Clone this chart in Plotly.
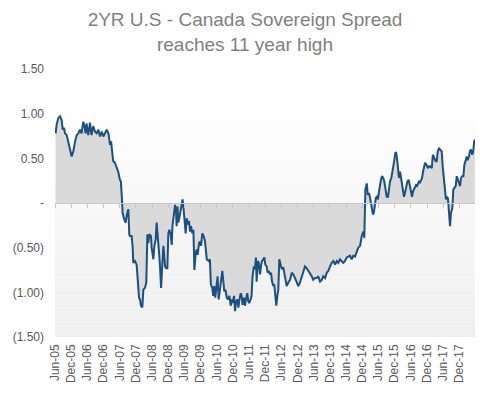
import plotly.graph_objects as go

title_text = "2YR U.S - Canada Sovereign Spread<br>reaches 11 year high"

dates = [
    "2005-06-08", "2005-06-19", "2005-07-08", "2005-07-27", "2005-08-15", "2005-08-27", "2005-09-11", "2005-09-22",
    "2005-10-11", "2005-10-30", "2005-11-18", "2005-12-06", "2005-12-25", "2006-01-14", "2006-02-02", "2006-02-20",
    "2006-03-09", "2006-03-28", "2006-04-16", "2006-04-27", "2006-05-12", "2006-05-23", "2006-06-12", "2006-07-01",
    "2006-07-19", "2006-08-07", "2006-08-26", "2006-09-14", "2006-10-03", "2006-10-22", "2006-11-10", "2006-11-29",
    "2006-12-17", "2007-01-06", "2007-01-25", "2007-02-13", "2007-02-24", "2007-03-09", "2007-03-20", "2007-04-09",
    "2007-04-27", "2007-05-16", "2007-06-04", "2007-06-15", "2007-06-27", "2007-07-04", "2007-07-19", "2007-08-07",
    "2007-08-22", "2007-09-07", "2007-09-18",
    "2007-09-25", "2007-10-14", "2007-10-25", "2007-11-02", "2007-11-21", "2007-12-10", "2007-12-21", "2008-01-06",
    "2008-01-17", "2008-01-28", "2008-02-12", "2008-02-24", "2008-03-13", "2008-03-28", "2008-04-09", "2008-04-20",
    "2008-05-01", "2008-05-20", "2008-05-27", "2008-06-16", "2008-06-27", "2008-07-12", "2008-07-23", "2008-08-04",
    "2008-08-19", "2008-08-30", "2008-09-11", "2008-09-26", "2008-10-07", "2008-10-18", "2008-10-26", "2008-11-06",
    "2008-11-21", "2008-12-02", "2008-12-13", "2008-12-28", "2009-01-09", "2009-01-17", "2009-01-28", "2009-02-08",
    "2009-02-16", "2009-02-27", "2009-03-05", "2009-03-16", "2009-03-24", "2009-04-04", "2009-04-16", "2009-05-01",
    "2009-05-12", "2009-05-23", "2009-05-31", "2009-06-16", "2009-06-27", "2009-07-08", "2009-07-23", "2009-08-04",
    "2009-08-15", "2009-08-30", "2009-09-11", "2009-09-22", "2009-10-07", "2009-10-18", "2009-10-29", "2009-11-14",
    "2009-11-25", "2009-12-06", "2009-12-21", "2010-01-05", "2010-01-20",
    "2010-02-09", "2010-02-28", "2010-03-16", "2010-03-27", "2010-04-12", "2010-04-23", "2010-05-04", "2010-05-16",
    "2010-05-31", "2010-06-11", "2010-06-23", "2010-07-08", "2010-07-19", "2010-08-04", "2010-08-15", "2010-08-26",
    "2010-09-07", "2010-09-22", "2010-10-07", "2010-10-22", "2010-11-06", "2010-11-18", "2010-11-29", "2010-12-14",
    "2010-12-25", "2011-01-06", "2011-01-21", "2011-02-01", "2011-02-13", "2011-02-28", "2011-03-09", "2011-03-20",
    "2011-04-05", "2011-04-16", "2011-04-27", "2011-05-12", "2011-05-23", "2011-06-04", "2011-06-19", "2011-06-30",
    "2011-07-11", "2011-07-26", "2011-08-07", "2011-08-18", "2011-08-26", "2011-09-07", "2011-09-18", "2011-10-03",
    "2011-10-14", "2011-10-25", "2011-11-10", "2011-11-21", "2011-12-02", "2011-12-17", "2011-12-28", "2012-01-09",
    "2012-01-24", "2012-02-05", "2012-02-16", "2012-03-01", "2012-03-12", "2012-03-23", "2012-04-04", "2012-04-16",
    "2012-04-27", "2012-05-08",
    "2012-06-04", "2012-06-22", "2012-07-11", "2012-07-30", "2012-08-18", "2012-09-07", "2012-09-26", "2012-10-14",
    "2012-11-02", "2012-11-21", "2012-12-09", "2012-12-28", "2013-01-17", "2013-02-04", "2013-02-22", "2013-03-13",
    "2013-03-31", "2013-04-19", "2013-05-09", "2013-05-26", "2013-06-15", "2013-07-04", "2013-07-22", "2013-08-11",
    "2013-08-30", "2013-09-17", "2013-10-07", "2013-10-26", "2013-11-13", "2013-12-02", "2013-12-21", "2014-01-09",
    "2014-01-28", "2014-02-16", "2014-03-05", "2014-03-24", "2014-04-12", "2014-04-30", "2014-05-19", "2014-06-08",
    "2014-06-26", "2014-07-15", "2014-08-04", "2014-08-22", "2014-09-10", "2014-09-29", "2014-10-17", "2014-11-06",
    "2014-11-25", "2014-12-13", "2014-12-24", "2015-01-05", "2015-01-21", "2015-02-01", "2015-02-16", "2015-03-09",
    "2015-04-01", "2015-04-12", "2015-04-23", "2015-05-04", "2015-05-15", "2015-05-27", "2015-06-08", "2015-06-19",
    "2015-06-30", "2015-07-11", "2015-07-26", "2015-08-07", "2015-08-18", "2015-09-03", "2015-09-18", "2015-09-29",
    "2015-10-10", "2015-10-25", "2015-11-06", "2015-11-17", "2015-11-28", "2015-12-09", "2015-12-17", "2015-12-28",
    "2016-01-09", "2016-01-20", "2016-02-01", "2016-02-12", "2016-02-23", "2016-03-05", "2016-03-16", "2016-03-27",
    "2016-04-08", "2016-04-23", "2016-05-08", "2016-05-23", "2016-06-04", "2016-06-15", "2016-06-26", "2016-07-07",
    "2016-07-18", "2016-07-30", "2016-08-10", "2016-08-22", "2016-09-02", "2016-09-14", "2016-09-25", "2016-10-06",
    "2016-10-17", "2016-10-29", "2016-11-09", "2016-11-24", "2016-12-10", "2016-12-25", "2017-01-05", "2017-01-24",
    "2017-02-05", "2017-02-20", "2017-03-01", "2017-03-20", "2017-04-01", "2017-04-16", "2017-04-27", "2017-05-16",
    "2017-05-27", "2017-06-11", "2017-06-22", "2017-07-03", "2017-07-14", "2017-07-26", "2017-08-03", "2017-08-10",
    "2017-08-18", "2017-08-29", "2017-09-13", "2017-09-24", "2017-10-06", "2017-10-21", "2017-11-02", "2017-11-13",
    "2017-11-28", "2017-12-09", "2017-12-20", "2018-01-04", "2018-01-16", "2018-01-27", "2018-02-12", "2018-02-23",
    "2018-03-05", "2018-03-20", "2018-03-31", "2018-04-11", "2018-04-26", "2018-05-07", "2018-05-18", "2018-05-26",
]

spread = [
    0.78, 0.875, 0.95, 0.97, 0.93, 0.82, 0.84, 0.78,
    0.76, 0.69, 0.60, 0.52, 0.58, 0.69, 0.76, 0.78,
    0.82, 0.78, 0.91, 0.875, 0.78, 0.89, 0.76, 0.90,
    0.76, 0.86, 0.80, 0.78, 0.82, 0.745, 0.80, 0.745,
    0.78, 0.82, 0.78, 0.65, 0.69, 0.60, 0.47, 0.45,
    0.41, 0.35, 0.26, 0.24, 0.04, -0.11, -0.17, -0.22,
    -0.13, -0.07, -0.35,
    -0.37, -0.37, -0.48, -0.67, -0.65, -0.69, -0.82, -1.06,
    -1.08, -1.15, -1.17, -0.97, -0.95, -0.89, -0.35, -0.45,
    -0.35, -0.37, -0.50, -0.63, -0.48, -0.41, -0.22, -0.34,
    -0.56, -0.71, -0.95, -0.67, -0.48, -0.61, -0.71, -0.73,
    -0.73, -0.34, -0.30, -0.35, -0.47, -0.26, -0.19, -0.11,
    -0.02, -0.09, -0.26, -0.04, -0.22, -0.17, -0.11, -0.04,
    0.04, -0.07, -0.17, -0.34, -0.17, -0.24, -0.20, -0.32,
    -0.26, -0.34, -0.30, -0.75, -0.56, -0.52, -0.58, -0.45,
    -0.43, -0.48, -0.34, -0.37, -0.43,
    -0.63, -0.65, -0.63, -0.91, -0.95, -1.04, -0.93, -1.06,
    -0.93, -0.82, -1.08, -0.97, -0.88, -0.76, -0.88, -0.99,
    -0.97, -1.06, -1.08, -1.04, -1.15, -1.08, -1.12, -1.04,
    -1.21, -1.10, -1.08, -1.17, -1.08, -1.01, -1.04, -1.14,
    -1.06, -1.15, -1.08, -1.01, -1.10, -1.12, -1.08, -1.04,
    -0.82, -0.71, -0.74, -0.61, -0.88, -0.65, -0.67, -0.80,
    -0.71, -0.65, -0.63, -0.61, -0.69, -0.71, -0.78, -0.76,
    -0.80, -0.78, -0.88, -0.93, -0.91, -1.04, -1.15, -1.04,
    -0.97, -0.63,
    -0.74, -0.72, -0.84, -0.93, -0.89, -0.86, -0.78, -0.80,
    -0.84, -0.88, -0.93, -0.89, -0.82, -0.75, -0.71, -0.73,
    -0.76, -0.78, -0.82, -0.86, -0.84, -0.84, -0.82, -0.88,
    -0.86, -0.82, -0.84, -0.78, -0.76, -0.71, -0.67, -0.65,
    -0.69, -0.65, -0.67, -0.63, -0.65, -0.67, -0.65, -0.61,
    -0.60, -0.59, -0.63, -0.59, -0.60, -0.55, -0.50, -0.48,
    -0.37, -0.32, -0.39, 0.15, 0.22, 0.09, 0.11, 0.00,
    -0.13, -0.10, -0.04, 0.06, 0.07, 0.04, 0.13, 0.22,
    0.26, 0.30, 0.28, 0.24, 0.17, 0.07, 0.07, 0.17,
    0.24, 0.28, 0.34, 0.39, 0.48, 0.56, 0.57, 0.50,
    0.35, 0.28, 0.35, 0.28, 0.24, 0.13, 0.07, 0.11,
    0.19, 0.24, 0.26, 0.17, 0.09, 0.07, 0.13, 0.15,
    0.17, 0.20, 0.19, 0.22, 0.24, 0.23, 0.26, 0.28,
    0.35, 0.41, 0.45, 0.43, 0.39, 0.41, 0.41, 0.39,
    0.54, 0.51, 0.48, 0.46, 0.58, 0.61, 0.60, 0.58,
    0.41, 0.22, 0.15, 0.04, 0.07, 0.05, -0.06, -0.17,
    -0.26, -0.11, -0.06, 0.15, 0.17, 0.19, 0.30, 0.26,
    0.22, 0.19, 0.28, 0.30, 0.30, 0.43, 0.48, 0.52,
    0.48, 0.52, 0.58, 0.60, 0.54, 0.58, 0.69, 0.71,
]

y_tickvals = [1.5, 1.0, 0.5, 0.0, -0.5, -1.0, -1.5]
y_ticktext = ["1.50", "1.00", "0.50", "-", "(0.50)", "(1.00)", "(1.50)"]

x_range = ["2005-06-01", "2018-05-27"]

FONT = "Liberation Sans, Arial, sans-serif"
LABEL_COLOR = "#595959"

fig = go.Figure()

# filled area to zero
fig.add_trace(go.Scatter(
    x=dates, y=spread, mode="lines", fill="tozeroy",
    fillcolor="#dadada", line=dict(width=0, color="rgba(0,0,0,0)"),
    hoverinfo="skip", showlegend=False, xaxis="x", yaxis="y",
))
# the line itself, on the overlaying axis whose line sits at zero
fig.add_trace(go.Scatter(
    x=dates, y=spread, mode="lines",
    line=dict(width=2, color="#1d4f7f"),
    showlegend=False, xaxis="x2", yaxis="y",
))

# subtle vertical gradient background
shapes = []
n = 40
top, bottom = 1.15, -1.5
for i in range(n):
    y0 = top - (top - bottom) * i / n
    y1 = top - (top - bottom) * (i + 1) / n
    t = (i + 0.5) / n
    g = int(round(255 - (255 - 239) * t))
    shapes.append(dict(type="rect", xref="paper", yref="y", x0=0, x1=1, y0=y1, y1=y0,
                       fillcolor=f"rgb({g},{g},{g})", line=dict(width=0), layer="below"))

fig.update_layout(
    width=490, height=394,
    margin=dict(l=55, r=15, t=69, b=57),
    paper_bgcolor="white", plot_bgcolor="white",
    font=dict(family=FONT, size=12, color=LABEL_COLOR),
    title=dict(text=title_text, x=0.5, xanchor="center", y=0.933, yanchor="middle",
               yref="container",
               font=dict(family=FONT, size=19, color="#7f7f7f")),
    shapes=shapes,
    xaxis=dict(type="date", range=x_range, tick0="2005-06-01", dtick="M6",
               tickformat="%b-%y", tickangle=-90, showgrid=False, zeroline=False,
               showline=False, ticks="", ticklabelstandoff=4,
               tickfont=dict(family=FONT, size=12, color=LABEL_COLOR)),
    xaxis2=dict(type="date", range=x_range, tick0="2005-06-01", dtick="M6",
                overlaying="x", anchor="free", position=0.5,
                showticklabels=False, showgrid=False, zeroline=False,
                showline=True, linecolor="#c8c8c8", linewidth=1,
                ticks="outside", ticklen=4, tickcolor="#c8c8c8", tickwidth=1),
    yaxis=dict(range=[-1.5, 1.5], tickvals=y_tickvals, ticktext=y_ticktext,
               showgrid=False, zeroline=False, showline=False, ticks="",
               ticklabelstandoff=10,
               tickfont=dict(family=FONT, size=12, color=LABEL_COLOR)),
)

fig.write_html("out.html",
               config={"displayModeBar": False},
               post_script="document.body.style.margin='0';document.body.style.padding='0';")
